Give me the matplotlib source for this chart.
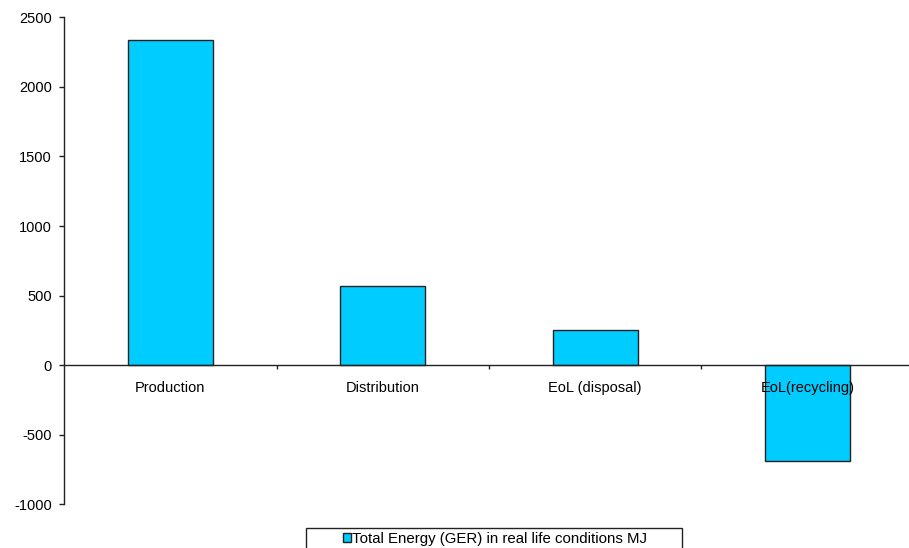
import matplotlib
matplotlib.use("Agg")
import matplotlib.pyplot as plt
from matplotlib.patches import Rectangle

# Values (MJ)
categories = ["Production", "Distribution", "EoL (disposal)", "EoL(recycling)"]
values = [2336, 566, 252, -690]
series_name = "Total Energy (GER) in real life conditions MJ"
y_ticks = [-1000, -500, 0, 500, 1000, 1500, 2000, 2500]

W, H = 909, 548


def main():
    plt.rcParams['font.family'] = ['Liberation Sans', 'DejaVu Sans']
    plt.rcParams['font.size'] = 10.5
    plt.rcParams['axes.unicode_minus'] = False

    fig = plt.figure(figsize=(W / 100, H / 100), dpi=100)
    # axes placed in pixel terms, right edge runs a bit past the canvas
    left, right = 64, 914
    top, bottom = 17.3, 504.3
    ax = fig.add_axes([left / W, 1 - bottom / H,
                       (right - left) / W, (bottom - top) / H])

    x = list(range(len(categories)))
    bars = ax.bar(x, values, width=0.4, color="#00CCFF",
                  edgecolor="#222222", linewidth=1.0, label=series_name)

    ax.set_xlim(-0.5, len(categories) - 0.5)
    ax.set_ylim(y_ticks[0], y_ticks[-1])
    ax.set_yticks(y_ticks)

    # category axis sits on zero, ticks between categories
    ax.spines['top'].set_visible(False)
    ax.spines['right'].set_visible(False)
    ax.spines['bottom'].set_position(('data', 0))
    for s in ('left', 'bottom'):
        ax.spines[s].set_color('#222222')
        ax.spines[s].set_linewidth(1.0)

    ax.set_xticks(x)
    ax.set_xticklabels(categories)
    ax.set_xticks([i + 0.5 for i in x[:-1]], minor=True)
    ax.tick_params(axis='x', which='major', length=0, pad=11.5)
    ax.tick_params(axis='x', which='minor', direction='out', length=3,
                   width=1, color='#222222')
    ax.tick_params(axis='y', direction='out', length=3.6, width=1,
                   color='#222222', pad=5)

    # legend at the bottom, box partly cut off by the canvas
    fig.legend(handles=[bars], labels=[series_name], loc='center left',
               bbox_to_anchor=(335 / W, 1 - 539 / H), frameon=False,
               borderpad=0, handlelength=0.55, handleheight=0.55,
               handletextpad=0.1, fontsize=10.8)
    fig.add_artist(Rectangle((305.5 / W, -0.05), (682 - 305.5) / W,
                             0.05 + 1 - 527.5 / H, transform=fig.transFigure,
                             facecolor='none', edgecolor='#222222',
                             linewidth=1.0, clip_on=False))

    fig.savefig("out.png", dpi=100)


if __name__ == "__main__":
    main()
